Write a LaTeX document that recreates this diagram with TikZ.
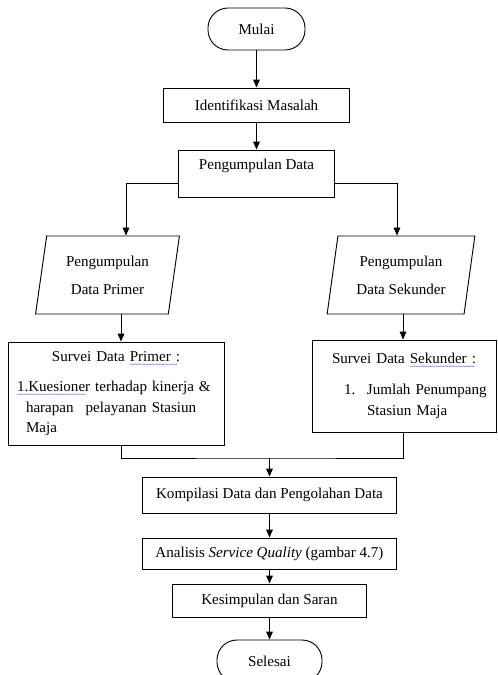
\documentclass[tikz,border=0pt]{standalone}
\usepackage{fontspec}
\setmainfont{Liberation Serif}
\usetikzlibrary{shapes.geometric,arrows.meta}
\newcommand\spellwave[1]{\setbox0=\hbox{#1}\rlap{\color{blue!85}\raisebox{-4.5pt}{\hbox to\wd0{\leaders\hbox{\fontsize{6}{6}\selectfont\char"7E}\hfill}}}#1}

\begin{document}
\begin{tikzpicture}
  [x=0.75pt,y=-0.75pt,line width=0.7pt,
   every node/.style={draw,font=\fontsize{11.3}{15.4}\selectfont,line width=0.7pt},
   proses/.style={rectangle,inner sep=0pt},
   terminal/.style={rectangle,rounded corners=15pt,minimum width=72.75pt,minimum height=31.5pt},
   inputdata/.style={trapezium,trapezium left angle=80,trapezium right angle=100,
     trapezium stretches=true,minimum height=58.5pt,align=center},
   arr/.style={-{Triangle[length=6pt,width=5pt]}}]
  \useasboundingbox (0,0) rectangle (497,675);

  \node[terminal] (mulai) at (256.5,29) {Mulai};
  \node[proses,minimum width=139.5pt,minimum height=25.5pt] (ident) at (256.5,105) {Identifikasi Masalah};
  \node[proses,minimum width=117pt,minimum height=35.25pt,text depth=14pt] (kumpul) at (256.5,173.5) {Pengumpulan Data};
  \node[inputdata,minimum width=108.75pt] (primer) at (107.5,275) {Pengumpulan\\[5.6pt]Data Primer};
  \node[inputdata,minimum width=111pt] (sekunder) at (401,275) {Pengumpulan\\[5.6pt]Data Sekunder};
  \node[proses,text width=162pt,minimum height=77.25pt,align=left] (svprimer) at (116,393.5)
    {\hfill Survei Data \spellwave{Primer :}\hfill\null\\[7.6pt]
     \hspace*{6.75pt}\spellwave{1.Kuesioner} terhadap kinerja \&\\
     \hspace*{13.5pt}harapan\hspace{9pt}pelayanan Stasiun\\
     \hspace*{13.5pt}Maja};
  \node[proses,text width=138pt,minimum height=69pt,align=left] (svsekunder) at (404,386)
    {\hfill Survei Data \spellwave{Sekunder :}\hfill\null\\[8pt]
     \hspace*{24pt}\makebox[17.25pt][l]{1.}Jumlah Penumpang\\
     \hspace*{41.25pt}Stasiun Maja};
  \node[proses,minimum width=190.5pt,minimum height=27pt] (kompilasi) at (269.5,495) {Kompilasi Data dan Pengolahan Data};
  \node[proses,minimum width=190.5pt,minimum height=23.25pt] (analisis) at (269.5,553.5) {Analisis \textit{Service Quality} (gambar 4.7)};
  \node[proses,minimum width=145.5pt,minimum height=24.75pt] (simpulan) at (269.5,600.5) {Kesimpulan dan Saran};
  \node[terminal,minimum width=78.75pt] (selesai) at (269.5,661) {Selesai};

  \coordinate (kiri) at (126,183);
  \coordinate (kanan) at (397,183);
  \coordinate (pa) at (121,458);
  \coordinate (pb) at (403,458);
  \coordinate (gabung) at (269.5,458);

  \path[arr]
    (mulai) edge (ident)
    (ident) edge (kumpul)
    (kompilasi) edge (analisis)
    (analisis) edge (simpulan)
    (simpulan) edge (selesai);
  \draw[arr] (kumpul.west |- kiri) -| (kiri |- primer.north);
  \draw[arr] (kumpul.east |- kanan) -| (kanan |- sekunder.north);
  \draw[arr] (primer.south -| pa) -- (svprimer.north -| pa);
  \draw[arr] (sekunder.south -| pb) -- (svsekunder.north -| pb);
  \draw (svprimer.south -| pa) |- (gabung) -| (svsekunder.south -| pb);
  \draw[arr] (gabung) -- (kompilasi);
\end{tikzpicture}
\end{document}
